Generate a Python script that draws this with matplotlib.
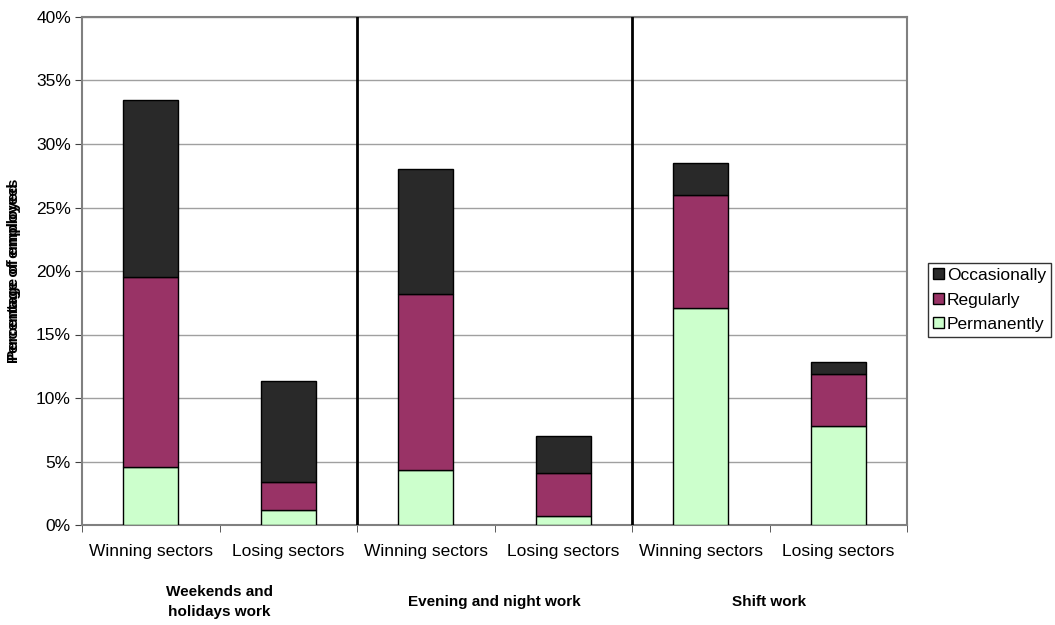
import matplotlib
matplotlib.use("Agg")
import matplotlib.pyplot as plt
import numpy as np

plt.rcParams['font.family'] = ['Liberation Sans', 'DejaVu Sans']

categories = ["Winning sectors", "Losing sectors"] * 3
groups = ["Weekends and\nholidays work", "Evening and night work", "Shift work"]
permanently = [4.6, 1.2, 4.3, 0.7, 17.1, 7.8]
regularly = [14.9, 2.2, 13.9, 3.4, 8.9, 4.1]
occasionally = [14.0, 7.9, 9.8, 2.9, 2.5, 0.9]
yticks = [0, 5, 10, 15, 20, 25, 30, 35, 40]

fig = plt.figure(figsize=(10.55, 6.25), dpi=100)
ax = fig.add_axes([82 / 1055, 1 - 525 / 625, 825 / 1055, 508 / 625])

x = np.arange(len(categories))
perm = np.array(permanently)
reg = np.array(regularly)
occ = np.array(occasionally)

w = 0.4
b1 = ax.bar(x, perm, w, color="#CCFFCC", edgecolor="black", linewidth=1, label="Permanently", zorder=3)
b2 = ax.bar(x, reg, w, bottom=perm, color="#993366", edgecolor="black", linewidth=1, label="Regularly", zorder=3)
b3 = ax.bar(x, occ, w, bottom=perm + reg, color="#292929", edgecolor="black", linewidth=1, label="Occasionally", zorder=3)

ax.set_xlim(-0.5, len(categories) - 0.5)
ax.set_ylim(0, 40)
ax.set_yticks(yticks)
ax.set_yticklabels([f"{t}%" for t in yticks], fontsize=12.5)
ax.yaxis.grid(True, color="#a0a0a0", linewidth=1, zorder=0)

# category labels centred under bars, ticks at boundaries
ax.set_xticks(x)
ax.set_xticklabels(categories, fontsize=12.5)
ax.tick_params(axis="x", length=0, pad=14)
ax.set_xticks(np.arange(-0.5, len(categories)), minor=True)
ax.tick_params(axis="x", which="minor", length=5, color="#404040")
ax.tick_params(axis="y", length=5, color="#404040", pad=3)

for s in ax.spines.values():
    s.set_color("#808080")
    s.set_linewidth(1.5)

# group separators
for xs in [1.5, 3.5]:
    ax.axvline(xs, color="black", linewidth=2, zorder=4)

# group titles
for i, g in enumerate(groups):
    ax.text(2 * i + 0.5, -0.152, g, transform=ax.get_xaxis_transform(), ha="center", va="center",
            fontsize=11, fontweight="bold", linespacing=1.55)

# overlapping axis titles
fig.text(0.0135, 0.566, "Percentage of employed", rotation=90, ha="center", va="center",
         fontsize=11, fontweight="bold")
fig.text(0.0135, 0.566, "Percentage of employees", rotation=90, ha="center", va="center",
         fontsize=11, fontweight="bold")

leg = fig.legend(handles=[b3, b2, b1], labels=["Occasionally", "Regularly", "Permanently"],
                 loc="center left", bbox_to_anchor=(928 / 1055, 1 - 300 / 625), fontsize=12.5,
                 frameon=True, fancybox=False, edgecolor="black", handlelength=0.6, handleheight=0.6,
                 handletextpad=0.2, borderpad=0.3, labelspacing=0.55, borderaxespad=0)
leg.get_frame().set_linewidth(1)

fig.savefig("out.png", dpi=100)
